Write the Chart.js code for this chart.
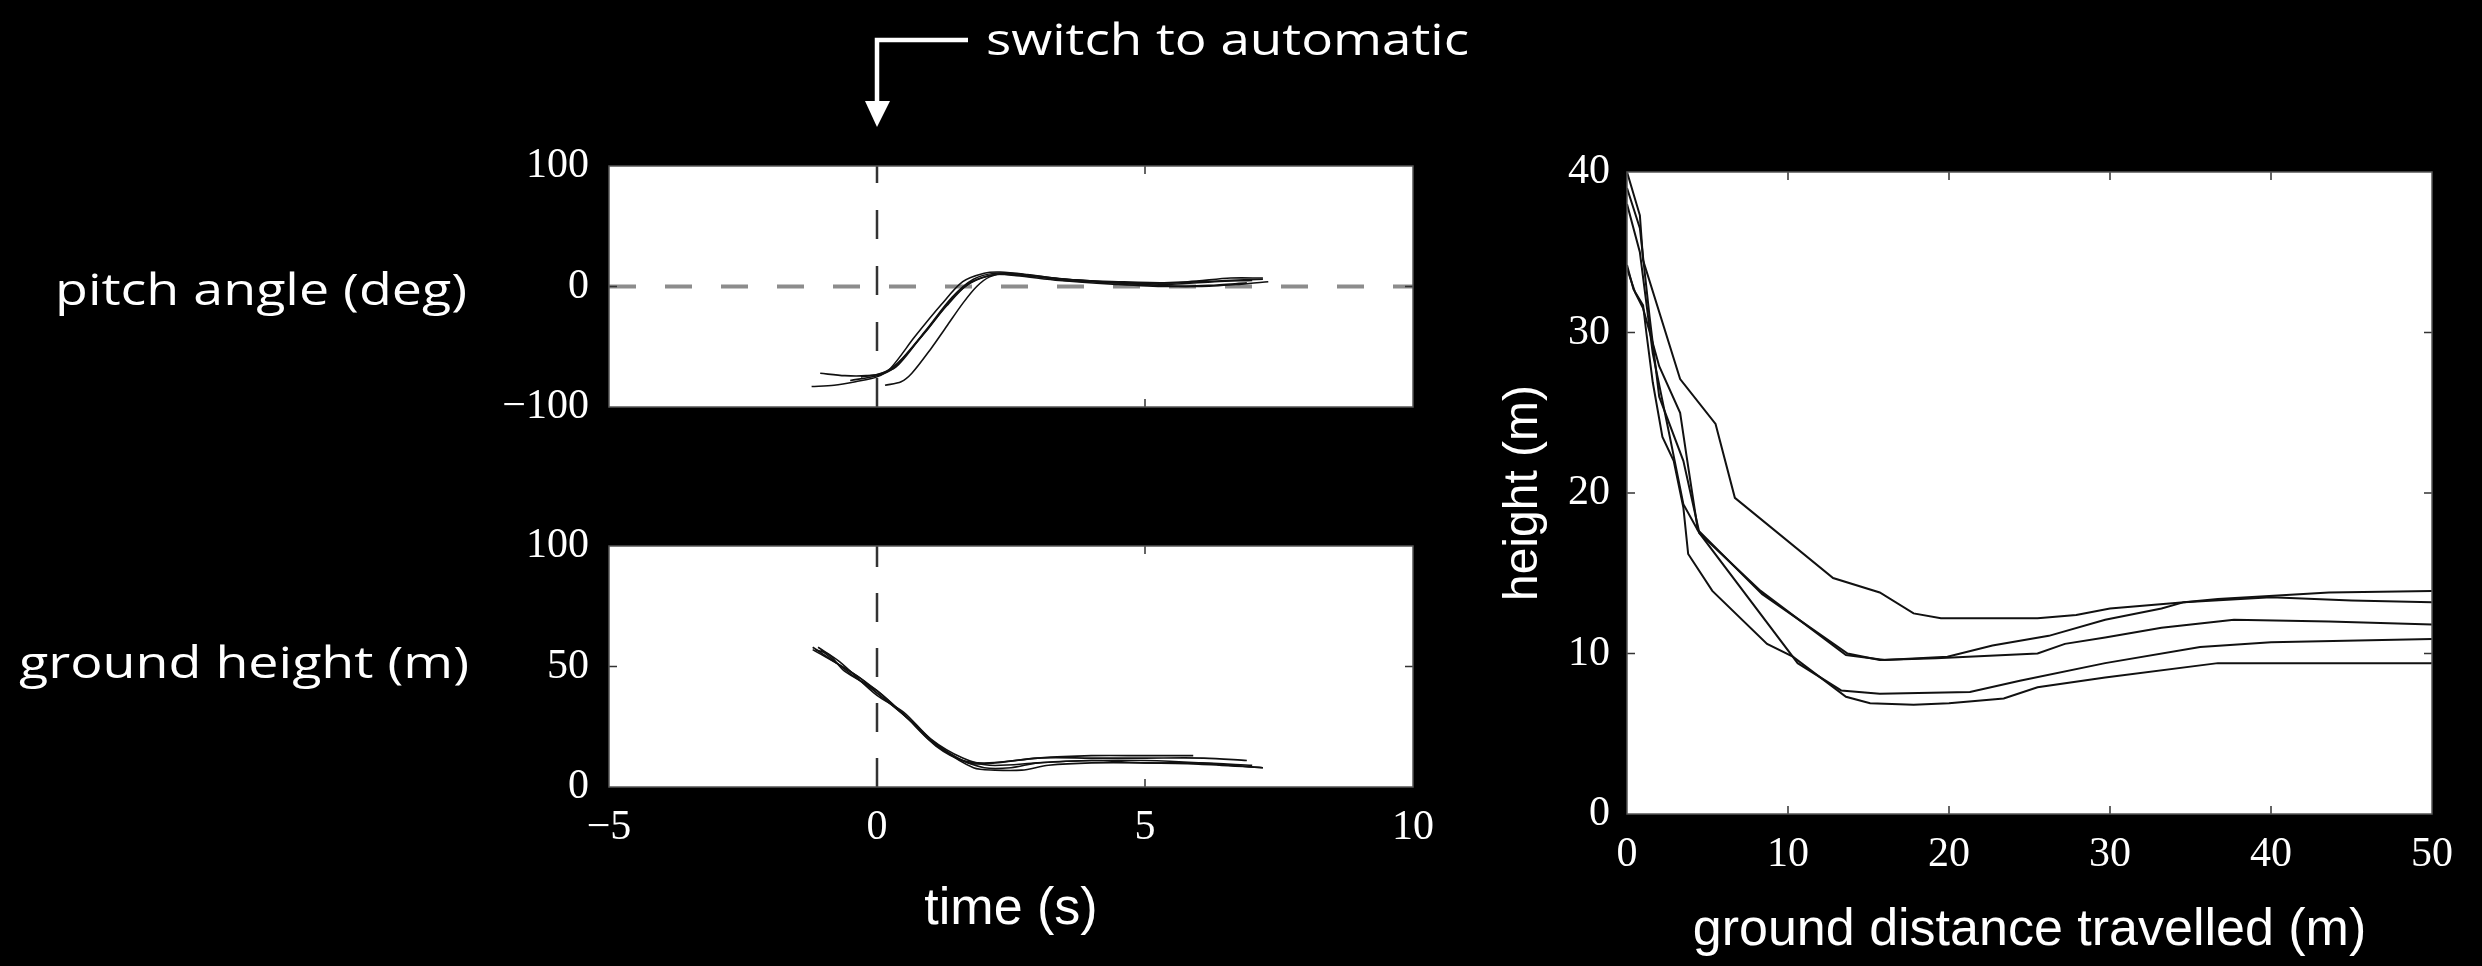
<!DOCTYPE html>
<html>
<head>
<meta charset="utf-8">
<script src="https://cdn.jsdelivr.net/npm/chart.js@4.4.1/dist/chart.umd.min.js"></script>
<style>
body{margin:0;background:#000;width:2482px;height:966px;overflow:hidden;position:relative}
canvas{position:absolute}
#labels{position:absolute;left:0;top:0}
#labels text{font-family:"Open Sans";font-size:44px;fill:#fff}
</style>
</head>
<body>
<canvas id="pitch" width="1000" height="300" style="left:450px;top:140px"></canvas>
<canvas id="ground" width="1000" height="446" style="left:450px;top:520px"></canvas>
<canvas id="dist" width="980" height="826" style="left:1495px;top:140px"></canvas>
<svg id="labels" width="2482" height="966">
  <text x="55" y="305" textLength="412" lengthAdjust="spacingAndGlyphs">pitch angle (deg)</text>
  <text x="19" y="678" textLength="450" lengthAdjust="spacingAndGlyphs">ground height (m)</text>
  <text x="986" y="55" textLength="483" lengthAdjust="spacingAndGlyphs">switch to automatic</text>
  <!-- arrow pointing at the switch moment -->
  <polyline points="968,40 877,40 877,104" fill="none" stroke="#fff" stroke-width="4.5"/>
  <polygon points="865,101 890,101 877,127" fill="#fff"/>
</svg>
<script>
// pitch angle runs, [time s, deg]
const pitch1 = [[-1.22,-83],[-0.8,-82],[-0.4,-79],[0,-75],[0.25,-68],[0.7,-42],[1.2,-15],[1.6,4],[2.0,11],[2.3,12],[2.8,10],[3.5,6],[4.5,4],[5.5,3],[6.5,5],[7.2,6]];
const pitch2 = [[-1.06,-72],[-0.6,-74],[-0.2,-74],[0.1,-72],[0.4,-63],[0.9,-37],[1.4,-9],[1.8,6],[2.2,11],[2.7,10],[3.5,5],[4.5,3],[5.5,2],[6.3,4],[7.0,5]];
const pitch3 = [[-0.3,-75],[0,-73],[0.35,-67],[0.8,-43],[1.3,-16],[1.7,2],[2.1,9],[2.5,10],[3.2,7],[4.2,4],[5.2,1],[6,0],[6.8,2],[7.3,4]];
const pitch4 = [[0.15,-82],[0.45,-79],[0.65,-72],[1.0,-52],[1.3,-33],[1.6,-14],[1.86,0],[2.1,8],[2.4,11],[2.9,9],[3.8,5],[4.8,3],[5.8,4],[6.6,7],[7.2,7]];
const pitch5 = [[-0.5,-78],[0,-74],[0.3,-68],[0.9,-38],[1.4,-10],[1.75,3],[2.2,10],[2.6,9],[3.4,5],[4.4,2],[5.4,0],[6.2,1],[6.9,3]];

// ground height runs, [time s, m]
const ground1 = [[-1.2,58],[-0.8,52],[-0.3,45],[0,39],[0.5,30],[1.0,19],[1.5,12],[2.0,8],[2.5,8],[3,10],[4,11],[5,11],[6,10],[7.2,8]];
const ground2 = [[-1.15,57],[-0.9,55],[-0.6,48],[0,40],[0.6,28],[1.1,17],[1.6,11],[2.1,10],[3,12],[4,13],[5,13],[5.9,13]];
const ground3 = [[-1.1,58],[-0.7,52],[0,38],[0.5,31],[1.0,20],[1.6,12],[2.1,9],[3,10],[4,11],[5,10],[6,10],[7.0,9]];
const ground4 = [[-1.2,57],[-0.5,48],[0,40],[0.7,26],[1.2,16],[1.8,8],[2.2,7],[2.7,7],[3.2,9],[4,10],[5,10],[6,9.5],[7.2,8]];
const ground5 = [[-1.05,57],[-0.5,47],[0,39],[0.6,28],[1.1,18],[1.7,10],[2.2,10],[3,12],[4,12],[5,12],[6.1,12],[6.9,11]];

// height vs ground distance, [m, m]
const trackT = [[0,40],[0.8,37.3],[1.0,34.5],[3.3,27.1],[5.5,24.3],[6.7,19.7],[12.8,14.7],[15.7,13.8],[17.8,12.5],[19.5,12.2],[25.5,12.2],[27.9,12.4],[30,12.8],[34.6,13.2],[40,13.5],[45,13.3],[50,13.2]];
const trackA = [[0,39],[0.8,36.5],[1.4,31],[2,26],[3.5,22],[4.5,17.5],[8.3,13.9],[13.6,9.9],[16,9.6],[19.9,9.8],[22.7,10.5],[26.2,11.1],[29.7,12.1],[33.2,12.8],[34.6,13.2],[36.7,13.4],[43.6,13.8],[50,13.9]];
const trackC = [[0,34],[0.5,32.5],[1.0,31.5],[2.0,27.9],[3.3,25],[3.7,22.3],[4.4,17.7],[8.4,13.7],[13.7,10.0],[15.7,9.6],[19.2,9.7],[25.5,10.0],[27.2,10.6],[29.7,11.0],[33.2,11.6],[37.7,12.1],[43.6,12.0],[50,11.8]];
const trackD = [[0,38],[0.8,35],[1.6,28.7],[2.7,23.3],[3.5,19.3],[4.5,17.5],[10.6,9.4],[13.3,7.7],[15.7,7.5],[21.3,7.6],[24.4,8.3],[29.7,9.4],[35.6,10.4],[40,10.7],[50,10.9]];
const trackE = [[0,34.2],[0.4,32.7],[1.0,31.7],[1.2,30.0],[1.6,26.9],[2.2,23.5],[2.9,22.0],[3.5,19.1],[3.8,16.2],[5.3,13.9],[8.7,10.6],[10.3,9.8],[13.6,7.3],[15.1,6.9],[17.8,6.8],[20,6.9],[23.4,7.2],[25.5,7.9],[29.7,8.5],[36.7,9.4],[50,9.4]];

// reference lines
const switchPitch = [[0,-100],[0,100]];
const switchGround = [[0,0],[0,100]];
const zeroPitch = [[-5,0],[10,0]];

const serif = {family: 'Liberation Serif', size: 42};

function minus(v) { return String(v).replace('-', '\u2212'); }

function makeAxis(min, max, step, fit, pad, showLabels, title, titleSize)
{
    return {
        type: 'linear', min: min, max: max,
        grid: {display: false, drawTicks: false},
        border: {display: false},
        ticks: {stepSize: step, display: showLabels, color: '#fff', font: serif, padding: pad, callback: v => minus(v)},
        title: title ? {display: true, text: title, color: '#fff', padding: 0, font: {family: 'Liberation Sans', size: titleSize}} : {display: false},
        afterFit: s => {
            if (s.isHorizontal()) s.height = fit; else s.width = fit;
            // labels may overhang the plot box, layout padding already leaves room
            s.paddingTop = 0; s.paddingBottom = 0; s.paddingLeft = 0; s.paddingRight = 0;
        }
    };
}

function curve(points, w, tension)
{
    return {data: points.map(p => ({x: p[0], y: p[1]})), borderColor: '#111', borderWidth: w, pointRadius: 0, tension: tension, fill: false};
}

function dashed(points, color, w, dash)
{
    return {data: points.map(p => ({x: p[0], y: p[1]})), borderColor: color, borderWidth: w, borderDash: dash, pointRadius: 0, fill: false};
}

// white plot box with inward tick marks
const frame = {
    id: 'frame',
    beforeDatasetsDraw(chart) {
        const a = chart.chartArea, ctx = chart.ctx;
        ctx.save();
        ctx.fillStyle = '#fff';
        ctx.fillRect(a.left, a.top, a.right - a.left, a.bottom - a.top);
        ctx.restore();
    },
    afterDatasetsDraw(chart) {
        const a = chart.chartArea, ctx = chart.ctx, x = chart.scales.x, y = chart.scales.y;
        ctx.save();
        ctx.strokeStyle = '#333';
        ctx.lineWidth = 1.5;
        ctx.beginPath();
        x.ticks.forEach(t => {
            if (t.value <= x.min || t.value >= x.max) return;
            let p = x.getPixelForValue(t.value);
            ctx.moveTo(p, a.top); ctx.lineTo(p, a.top + 8);
            ctx.moveTo(p, a.bottom); ctx.lineTo(p, a.bottom - 8);
        });
        y.ticks.forEach(t => {
            if (t.value <= y.min || t.value >= y.max) return;
            let p = y.getPixelForValue(t.value);
            ctx.moveTo(a.left, p); ctx.lineTo(a.left + 8, p);
            ctx.moveTo(a.right, p); ctx.lineTo(a.right - 8, p);
        });
        ctx.stroke();
        ctx.strokeStyle = '#555';
        ctx.strokeRect(a.left, a.top, a.right - a.left, a.bottom - a.top);
        ctx.restore();
    }
};

function base(padding, scales)
{
    return {
        responsive: false, animation: false, devicePixelRatio: 1,
        layout: {padding: padding},
        plugins: {legend: {display: false}, tooltip: {enabled: false}},
        scales: scales
    };
}

new Chart(document.getElementById('pitch'), {
    type: 'line',
    data: {datasets: [
        curve(pitch1, 1.6, 0.3), curve(pitch2, 1.6, 0.3), curve(pitch3, 1.6, 0.3), curve(pitch4, 1.6, 0.3), curve(pitch5, 1.6, 0.3),
        dashed(switchPitch, '#333', 2.5, [29, 27]),
        dashed(zeroPitch, '#8c8c8c', 4, [27, 29])
    ]},
    options: base({top: 26, right: 37, bottom: 0, left: 0}, {
        x: makeAxis(-5, 10, 5, 33, 0, false),
        y: makeAxis(-100, 100, 100, 159, 20, true)
    }),
    plugins: [frame]
});

new Chart(document.getElementById('ground'), {
    type: 'line',
    data: {datasets: [
        curve(ground1, 1.6, 0.3), curve(ground2, 1.6, 0.3), curve(ground3, 1.6, 0.3), curve(ground4, 1.6, 0.3), curve(ground5, 1.6, 0.3),
        dashed(switchGround, '#333', 2.5, [29, 26])
    ]},
    options: base({top: 26, right: 37, bottom: 25, left: 0}, {
        x: makeAxis(-5, 10, 5, 154, 16, true, 'time (s)', 52),
        y: makeAxis(0, 100, 50, 159, 20, true)
    }),
    plugins: [frame]
});

new Chart(document.getElementById('dist'), {
    type: 'line',
    data: {datasets: [
        curve(trackT, 2, 0), curve(trackA, 2, 0), curve(trackC, 2, 0), curve(trackD, 2, 0), curve(trackE, 2, 0)
    ]},
    options: base({top: 32, right: 43, bottom: 4, left: 0}, {
        x: makeAxis(0, 50, 10, 148, 16, true, 'ground distance travelled (m)', 52),
        y: makeAxis(0, 40, 10, 132, 17, true, 'height (m)', 48)
    }),
    plugins: [frame]
});
</script>
</body>
</html>
